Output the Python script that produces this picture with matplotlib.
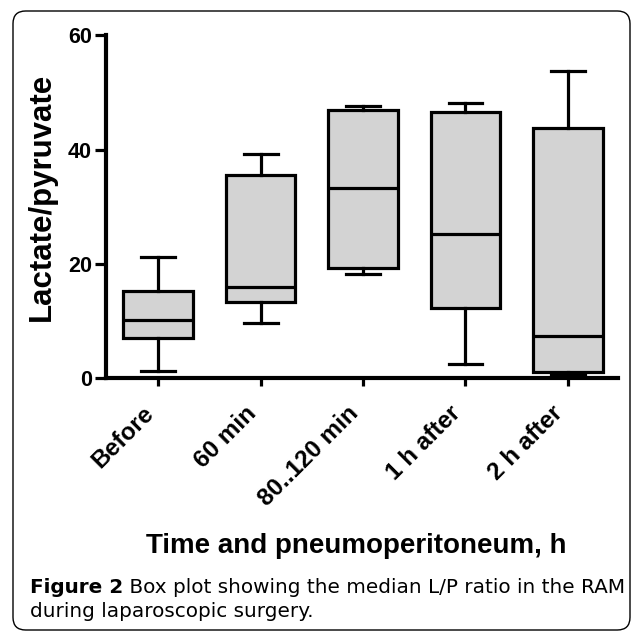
import matplotlib.pyplot as plt
from matplotlib.patches import FancyBboxPatch

plt.rcParams['font.family'] = 'Liberation Sans'

# values (lactate/pyruvate ratio)
groups = ['Before', '60 min', '80..120 min', '1 h after', '2 h after']
whislo = [1.3, 9.6, 18.3, 2.5, 0.6]
q1 = [7.0, 13.4, 19.3, 12.3, 1.0]
med = [10.2, 16.0, 33.3, 25.3, 7.4]
q3 = [15.3, 35.6, 47.0, 46.6, 43.8]
whishi = [21.2, 39.3, 47.7, 48.2, 53.8]

stats = []
for i in range(len(groups)):
    stats.append({'label': groups[i], 'whislo': whislo[i], 'q1': q1[i], 'med': med[i],
                  'q3': q3[i], 'whishi': whishi[i], 'fliers': []})

fig = plt.figure(figsize=(6.34, 6.33), dpi=100)

# rounded frame around chart and caption
frame = FancyBboxPatch((13 / 634, 3 / 633), 617 / 634, 619 / 633,
                       boxstyle='round,pad=0,rounding_size=0.02',
                       transform=fig.transFigure, facecolor='none',
                       edgecolor='black', linewidth=1.0, zorder=-5)
fig.patches.append(frame)

ax = fig.add_axes([106 / 634, (633 - 378) / 633, 512 / 634, 342.5 / 633])
ax.patch.set_alpha(0)

lw = 2.3
ax.bxp(stats, widths=0.68, patch_artist=True, showfliers=False,
       boxprops=dict(facecolor='#d3d3d3', edgecolor='black', linewidth=lw),
       medianprops=dict(color='black', linewidth=lw),
       whiskerprops=dict(color='black', linewidth=lw),
       capprops=dict(color='black', linewidth=lw), capwidths=0.33)

ax.set_xlim(0.49, 5.49)
ax.set_ylim(0, 60)
ax.set_yticks([0, 20, 40, 60])
ax.spines['top'].set_visible(False)
ax.spines['right'].set_visible(False)
ax.spines['left'].set_linewidth(3)
ax.spines['bottom'].set_linewidth(3)
ax.tick_params(axis='y', length=8, width=2.3, labelsize=15.5, pad=2)
ax.tick_params(axis='x', length=6, width=2.3, pad=11)
for t in ax.get_yticklabels():
    t.set_fontweight('bold')
ax.set_xticks(range(1, 6))
ax.set_xticklabels(groups, rotation=45, ha='right', fontsize=17.5, fontweight='bold')

fig.text(42 / 634, (633 - 197) / 633, 'Lactate/pyruvate', rotation=90,
         ha='center', va='center', fontsize=22.5, fontweight='bold')
fig.text(356 / 634, (633 - 553) / 633, 'Time and pneumoperitoneum, h',
         ha='center', va='baseline', fontsize=20, fontweight='bold')

# caption, sized so the first line spans the frame like the original
cap_font = 'DejaVu Sans'
t1 = fig.text(30 / 634, (633 - 593) / 633, 'Figure 2', fontsize=12, fontweight='bold',
              family=cap_font, va='baseline')
t2 = fig.text(0, (633 - 593) / 633, ' Box plot showing the median L/P ratio in the RAM',
              fontsize=12, family=cap_font, va='baseline')
t3 = fig.text(30 / 634, (633 - 617) / 633, 'during laparoscopic surgery.',
              fontsize=12, family=cap_font, va='baseline')
r = fig.canvas.get_renderer()
w = t1.get_window_extent(r).width + t2.get_window_extent(r).width
size = 12 * 592 / w
for t in (t1, t2, t3):
    t.set_fontsize(size)
t2.set_x((30 + t1.get_window_extent(r).width) / 634)

fig.savefig('out.png', dpi=100)
